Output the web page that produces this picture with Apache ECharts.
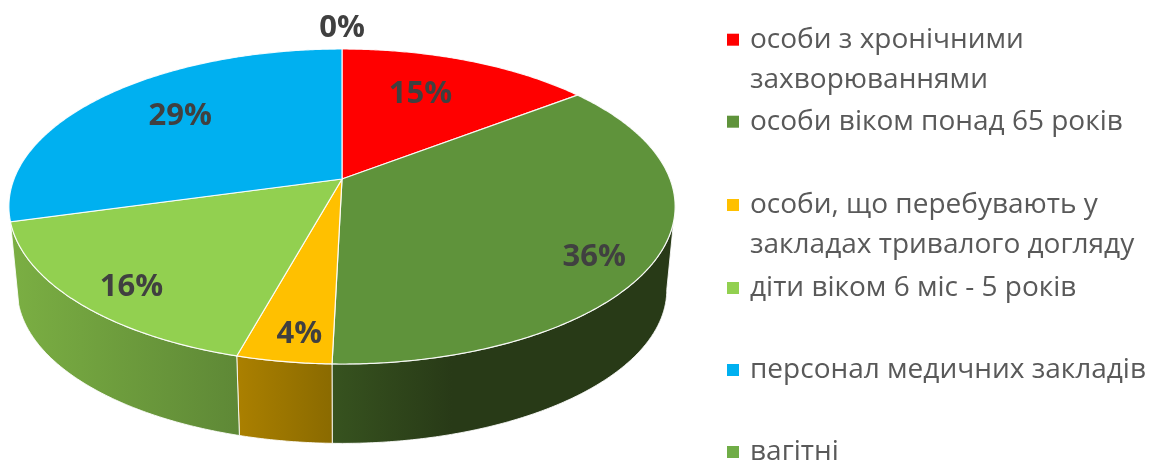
<!DOCTYPE html>
<html><head><meta charset="utf-8">
<style>html,body{margin:0;padding:0;background:#fff}#c{width:1156px;height:467px}</style>
<script src="https://cdn.jsdelivr.net/npm/echarts@6/dist/echarts.min.js"></script>
</head><body><div id="c"></div>
<script>
const categories = ['особи з хронічними\nзахворюваннями','особи віком понад 65 років','особи, що перебувають у\nзакладах тривалого догляду','діти віком 6 міс - 5 років','персонал медичних закладів','вагітні'];
const shares = [14.6, 35.8, 3.9, 16.4, 29.3, 0];
const topColors = ['#FF0000','#5F933B','#FFC000','#92D050','#00B0F0','#70AD47'];
const wallColors = [null,[[0,'#37531F'],[0.35,'#283A17'],[1,'#283A17']],[[0,'#AB8000'],[1,'#8A6A00']],[[0,'#7BAF43'],[1,'#5E8836']],null,null];
const labelRadii = [0.69,0.84,0.855,0.84,0.71,1.226];
const labelAngleShift = [-3.6,5.5,-1,-2,4,0];
const legendCenters = [39.7,121.7,205,288,370,452];

const G = {cx:342, cy:179, a:152.7, b:328, k:0.1746, wallDy:84, wallScale:0.975, wallFrom:100, wallTo:260, labelDy:3};
const total = shares.reduce((s,v)=>s+v,0);
function startAngle(i){let s=0;for(let j=0;j<i;j++)s+=shares[j];return s/total*360;}
function project(deg,r,scale,dy){
  const t=deg*Math.PI/180,u=r*Math.sin(t),v=-r*Math.cos(t),w=1-G.k*v;
  return [G.cx+scale*G.b*u/w, G.cy+dy+scale*G.a*v/w];
}
function arc(from,to,scale,dy){
  const n=Math.max(2,Math.ceil((to-from)*2)),p=[];
  for(let i=0;i<=n;i++)p.push(project(from+(to-from)*i/n,1,scale,dy));
  return p;
}
function renderSlice(params,api){
  const i=params.seriesIndex,val=api.value(0),from=startAngle(i),to=from+val/total*360;
  const children=[];
  const wf=Math.max(from,G.wallFrom),wt=Math.min(to,G.wallTo);
  if(wallColors[i]&&wt>wf){
    const pts=arc(wf,wt,1,0).concat(arc(wf,wt,G.wallScale,G.wallDy).reverse());
    children.push({type:'polygon',z2:1,shape:{points:pts},style:{
      fill:new echarts.graphic.LinearGradient(0,0,1,0,wallColors[i].map(s=>({offset:s[0],color:s[1]}))),
      stroke:'rgba(255,255,255,0.85)',lineWidth:1}});
  }
  if(val>0){
    children.push({type:'polygon',z2:10,shape:{points:[[G.cx,G.cy]].concat(arc(from,to,1,0))},
      style:{fill:topColors[i],stroke:'rgba(255,255,255,0.9)',lineWidth:1.2}});
  }
  const p=project((from+to)/2+labelAngleShift[i],labelRadii[i],1,G.labelDy);
  children.push({type:'text',z2:20,x:p[0],y:p[1],style:{text:Math.round(val)+'%',align:'center',verticalAlign:'middle',
    fontFamily:'"Open Sans"',fontWeight:'bold',fontSize:31,fill:'#404040'}});
  return {type:'group',children};
}
const series=categories.map((name,i)=>({type:'custom',name,coordinateSystem:'none',silent:true,animation:false,
  itemStyle:{color:topColors[i]},data:[[shares[i]]],renderItem:renderSlice}));
const legend=categories.map((name,i)=>{
  const two=name.includes('\n');
  return {data:[name],orient:'vertical',left:727,top:legendCenters[i]-(two?60:20),padding:0,itemWidth:12,itemHeight:12,itemGap:12,
    icon:'rect',selectedMode:false,
    formatter:n=>two?'\n'+n:n,
    textStyle:{fontFamily:'"Open Sans"',fontSize:28,lineHeight:40,color:'#595959',padding:[0,0,0,6]}};
});
const chart=echarts.init(document.getElementById('c'),null,{renderer:'canvas'});
chart.setOption({animation:false,backgroundColor:'#fff',legend,series});
</script></body></html>
